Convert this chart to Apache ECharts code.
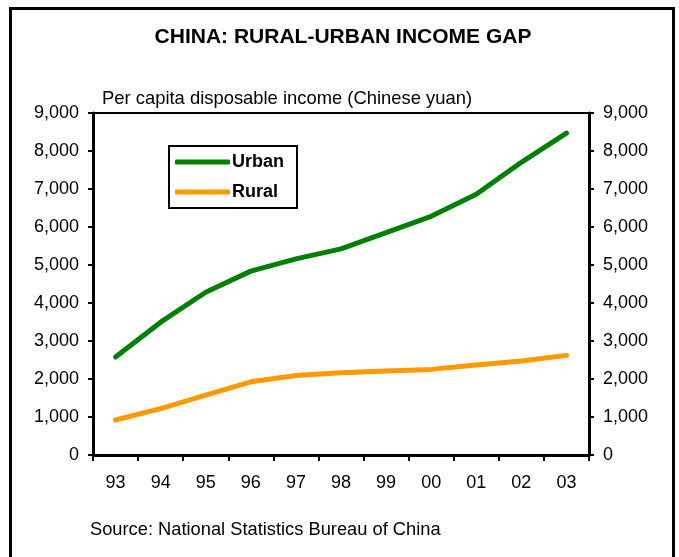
<!DOCTYPE html>
<html>
<head>
<meta charset="utf-8">
<title>China: Rural-Urban Income Gap</title>
<script src="https://cdn.jsdelivr.net/npm/echarts@6/dist/echarts.min.js"></script>
<style>
  html, body { margin: 0; padding: 0; background: #fff; }
  #chart { width: 679px; height: 557px; }
</style>
</head>
<body>
<div id="chart"></div>
<script>
// Per capita disposable income, Chinese yuan
const years = ['93', '94', '95', '96', '97', '98', '99', '00', '01', '02', '03'];
const urban = [2577, 3496, 4283, 4839, 5160, 5425, 5854, 6280, 6860, 7703, 8472];
const rural = [922, 1221, 1578, 1926, 2090, 2162, 2210, 2253, 2366, 2476, 2622];
const yTicks = { min: 0, max: 9000, interval: 1000 };

const FONT = 'Arial, "Liberation Sans", sans-serif';
const fmt = v => v.toLocaleString('en-US');

const chart = echarts.init(document.getElementById('chart'), null, { renderer: 'canvas' });

const yAxisBase = {
  type: 'value',
  min: yTicks.min,
  max: yTicks.max,
  interval: yTicks.interval,
  splitLine: { show: false },
  axisLine: { show: true, lineStyle: { color: '#000', width: 3 } },
  axisTick: { show: true, inside: false, length: 5, lineStyle: { color: '#000', width: 2 } },
  axisLabel: { color: '#000', fontSize: 18, fontFamily: FONT, margin: 14, formatter: fmt }
};

chart.setOption({
  animation: false,
  backgroundColor: '#fff',
  grid: {
    left: 93, right: 90, top: 113, bottom: 102,
    show: true, borderColor: '#000', borderWidth: 2,
    outerBoundsMode: 'none'
  },
  legend: {
    orient: 'vertical',
    left: 169,
    top: 146,
    padding: [7, 13, 7, 6],
    itemGap: 12,
    itemWidth: 55,
    itemHeight: 5,
    icon: 'roundRect',
    backgroundColor: '#fff',
    borderColor: '#000',
    borderWidth: 2,
    borderRadius: 0,
    textStyle: { color: '#000', fontSize: 18, fontWeight: 'bold', fontFamily: FONT, padding: [0, 0, 0, -3] },
    data: ['Urban', 'Rural']
  },
  xAxis: {
    type: 'category',
    data: years,
    boundaryGap: true,
    axisLine: { show: true, lineStyle: { color: '#000', width: 3 } },
    axisTick: { show: true, inside: false, length: 6, alignWithLabel: false, lineStyle: { color: '#000', width: 2 } },
    axisLabel: { color: '#000', fontSize: 18, fontFamily: FONT, margin: 19 },
    splitLine: { show: false }
  },
  yAxis: [
    Object.assign({ position: 'left' }, yAxisBase),
    Object.assign({ position: 'right' }, yAxisBase)
  ],
  series: [
    {
      name: 'Urban', type: 'line', data: urban, yAxisIndex: 0,
      showSymbol: false, symbol: 'none',
      lineStyle: { color: '#008000', width: 5, cap: 'round', join: 'round' },
      itemStyle: { color: '#008000' }
    },
    {
      name: 'Rural', type: 'line', data: rural, yAxisIndex: 0,
      showSymbol: false, symbol: 'none',
      lineStyle: { color: '#FF9900', width: 5, cap: 'round', join: 'round' },
      itemStyle: { color: '#FF9900' }
    }
  ],
  graphic: [
    {
      type: 'rect', silent: true, z: 100,
      shape: { x: 10.5, y: 8.5, width: 663, height: 580 },
      style: { fill: null, stroke: '#000', lineWidth: 3 }
    },
    {
      type: 'text', silent: true,
      style: {
        x: 343, y: 37, text: 'CHINA: RURAL-URBAN INCOME GAP',
        textAlign: 'center', textVerticalAlign: 'middle',
        font: 'bold 21px ' + FONT, fill: '#000'
      }
    },
    {
      type: 'text', silent: true,
      style: {
        x: 102, y: 99, text: 'Per capita disposable income (Chinese yuan)',
        textAlign: 'left', textVerticalAlign: 'middle',
        font: '18.4px ' + FONT, fill: '#000'
      }
    },
    {
      type: 'text', silent: true,
      style: {
        x: 90, y: 530, text: 'Source: National Statistics Bureau of China',
        textAlign: 'left', textVerticalAlign: 'middle',
        font: '18.3px ' + FONT, fill: '#000'
      }
    }
  ]
});
</script>
</body>
</html>
